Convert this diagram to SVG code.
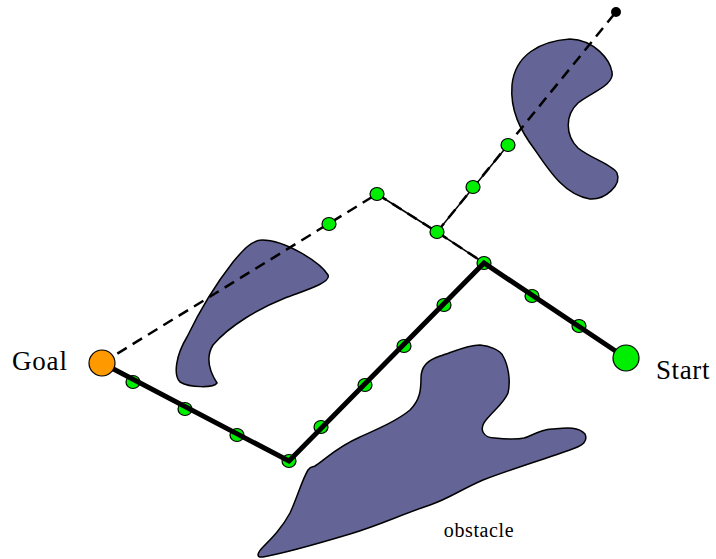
<svg xmlns="http://www.w3.org/2000/svg" width="716" height="559" viewBox="0 0 716 559">
<style>
.obs{fill:#646496;stroke:#000;stroke-width:1.5}
.dash{fill:none;stroke:#000;stroke-width:2.5;stroke-dasharray:11 7}
.thin{fill:none;stroke:#000;stroke-width:1.5}
.thick{fill:none;stroke:#000;stroke-width:5;stroke-linejoin:miter}
.wp{fill:#00ee00;stroke:#000;stroke-width:1.2}
.lbl{font-family:"Liberation Serif",serif;fill:#000}
</style>
<rect width="716" height="559" fill="#fff"/>
<g id="obstacle-top-right">
<path class="obs" d="M570,39 C540,41 515,55 512,85 C510,110 520,130 535,150 C550,172 565,195 590,199 C605,200 622,185 617,173 C613,165 590,158 578,148 C565,135 565,115 578,103 C590,93 615,85 612,72 C610,60 595,40 570,39 Z"/>
</g>
<g id="obstacle-left">
<path class="obs" d="M262,240 C285,240 320,262 328,275 C332,283 300,292 285,298 C260,308 230,325 213,345 C205,358 210,372 217,383 C214,388 190,388 180,382 C173,375 176,355 187,337 C200,310 215,285 233,262 C243,250 252,240 262,240 Z"/>
</g>
<g id="obstacle-bottom">
<path class="obs" d="M480,345 C490,346 500,350 503,356 C508,365 511,380 508,393 C504,403 494,410 486,420 C478,430 484,438 495,438 C505,439 515,440 524,438 C532,436 538,430 552,429 C565,428 578,426 585,434 C588,441 583,445 575,448 C555,456 520,466 483,480 C460,490 450,498 430,505 C400,515 380,525 350,534 C320,543 290,552 263,557 C255,558 258,552 263,547 C272,538 282,528 290,513 C297,498 302,480 308,470 C311,466 314,467 315,466 C325,460 335,448 360,437 C380,428 398,420 410,410 C420,400 421,390 421,378 C421,366 428,360 440,356 C455,351 468,345 480,345 Z"/>
<text class="lbl" x="479" y="537" font-size="20" letter-spacing="0.6" text-anchor="middle">obstacle</text>
</g>
<g id="connectors">
<polyline class="dash" points="102,363 377,194"/>
<polyline class="thin" points="377,194 437,232 484,263"/>
<polyline class="dash" points="377,194 437,232 484,263"/>
<polyline class="thin" points="437,232 508,145"/>
<polyline class="dash" points="437,232 616,12"/>
</g>
<g id="waypoints-tree">
<ellipse class="wp" cx="329" cy="224" rx="7" ry="6.5"/>
<ellipse class="wp" cx="377" cy="194" rx="7" ry="6.5"/>
<ellipse class="wp" cx="437" cy="232" rx="7" ry="6.5"/>
<ellipse class="wp" cx="473" cy="187" rx="7" ry="6.5"/>
<ellipse class="wp" cx="508" cy="145" rx="7" ry="6.5"/>
</g>
<g id="waypoints-path">
<ellipse class="wp" cx="133" cy="382" rx="7" ry="6.5"/>
<ellipse class="wp" cx="185" cy="409" rx="7" ry="6.5"/>
<ellipse class="wp" cx="237" cy="435" rx="7" ry="6.5"/>
<ellipse class="wp" cx="289" cy="461" rx="7" ry="6.5"/>
<ellipse class="wp" cx="321" cy="427" rx="7" ry="6.5"/>
<ellipse class="wp" cx="365" cy="385" rx="7" ry="6.5"/>
<ellipse class="wp" cx="404" cy="346" rx="7" ry="6.5"/>
<ellipse class="wp" cx="444" cy="305" rx="7" ry="6.5"/>
<ellipse class="wp" cx="484" cy="263" rx="7" ry="6.5"/>
<ellipse class="wp" cx="532" cy="296" rx="7" ry="6.5"/>
<ellipse class="wp" cx="579" cy="326" rx="7" ry="6.5"/>
</g>
<g id="path-solid">
<polyline class="thick" points="102,363 289,461 484,263 626,358"/>
</g>
<g id="goal">
<circle cx="102" cy="363" r="13" fill="#ff9900" stroke="#000" stroke-width="1.2"/>
<text class="lbl" x="12" y="370" font-size="27" letter-spacing="0.8">Goal</text>
</g>
<g id="start">
<circle cx="626" cy="358" r="13" fill="#00ee00" stroke="#000" stroke-width="1.2"/>
<text class="lbl" x="656" y="379" font-size="27" letter-spacing="0.6">Start</text>
</g>
<g id="sample">
<circle cx="616" cy="12" r="5" fill="#000"/>
</g>
</svg>
